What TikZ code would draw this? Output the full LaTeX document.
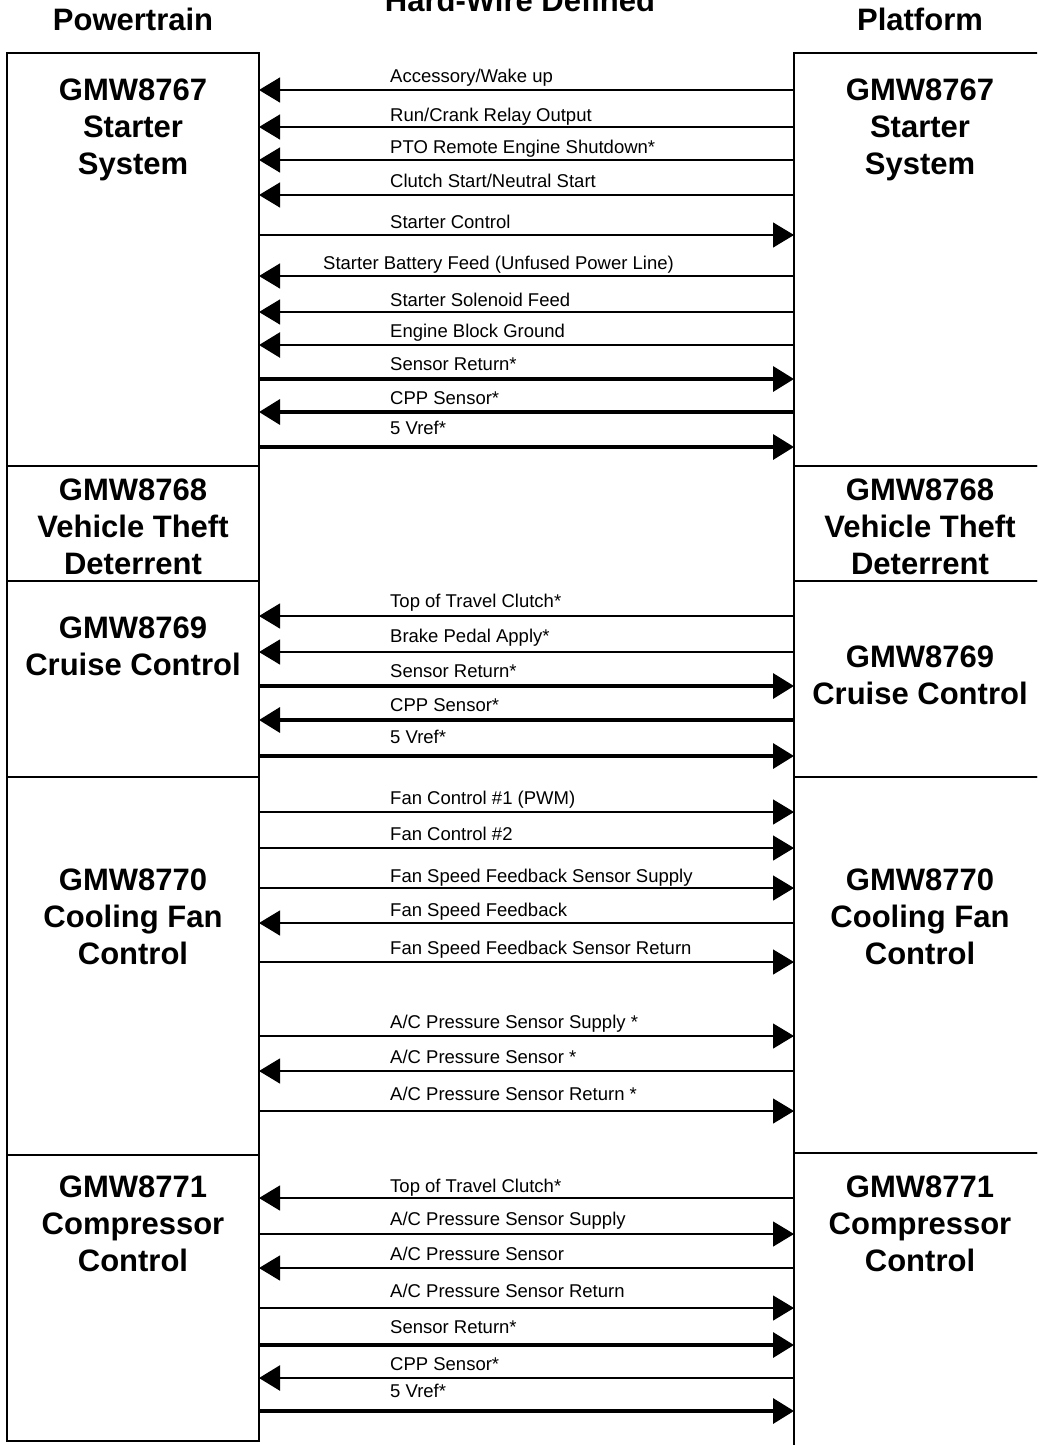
\documentclass[tikz,border=0pt]{standalone}
\usepackage{fontspec}
\setmainfont{Liberation Sans}
\usetikzlibrary{arrows.meta}
\newcommand\wire[7]{% #1 name, #2 left node, #3 right node, #4 wire y, #5 style, #6 label baseline y, #7 label
  \draw[#5] (#2.east |- 0,#4) -- (#3.west |- 0,#4);
  \node[lbl] (#1) at (390,#6) {#7};}
\begin{document}
\begin{tikzpicture}[x=1pt,y=-1pt,
  box/.style={draw, line width=1.3pt, rectangle, inner sep=0pt, outer sep=0pt, anchor=north west},
  ttl/.style={font=\bfseries\fontsize{31}{37}\selectfont, align=center, anchor=north, inner sep=0pt},
  hdr/.style={font=\bfseries\fontsize{31}{37}\selectfont, anchor=base, inner sep=0pt},
  lbl/.style={font=\fontsize{18.5}{20}\selectfont, anchor=base west, inner sep=0pt},
  tip/.style={Triangle[length=21pt,width=25pt]},
  tol/.style={line width=1.3pt, {Triangle[length=21pt,width=25pt]}-},
  tor/.style={line width=1.3pt, -{Triangle[length=21pt,width=25pt]}},
  tolm/.style={line width=2.4pt, {Triangle[length=21pt,width=25pt]}-},
  tolb/.style={line width=3.4pt, {Triangle[length=21pt,width=25pt]}-},
  torb/.style={line width=3.4pt, -{Triangle[length=21pt,width=25pt]}}
]
\useasboundingbox (0,0) rectangle (1037,1445);
\clip (0,0) rectangle (1037,1445);

% headers
\node[hdr] (hpt) at (133,31) {Powertrain};
\node[hdr] (hhw) at (520,12) {Hard-Wire Defined};
\node[hdr] (hpf) at (920,31) {Platform};

% left boxes
\node[box, minimum width=252pt, minimum height=413pt] (L1) at (7,53) {};
\node[box, minimum width=252pt, minimum height=115pt] (L2) at (7,466) {};
\node[box, minimum width=252pt, minimum height=196pt] (L3) at (7,581) {};
\node[box, minimum width=252pt, minimum height=378pt] (L4) at (7,777) {};
\node[box, minimum width=252pt, minimum height=286pt] (L5) at (7,1155) {};

% right boxes (open to the right)
\node[box, minimum width=280pt, minimum height=413pt] (R1) at (794,53) {};
\node[box, minimum width=280pt, minimum height=115pt] (R2) at (794,466) {};
\node[box, minimum width=280pt, minimum height=196pt] (R3) at (794,581) {};
\node[box, minimum width=280pt, minimum height=376pt] (R4) at (794,777) {};
\node[box, minimum width=280pt, minimum height=330pt] (R5) at (794,1153) {};

% titles
\node[ttl] (tL1) at (133,79) {GMW8767\\Starter\\System};
\node[ttl] (tR1) at (920,79) {GMW8767\\Starter\\System};
\node[ttl] (tL2) at (133,479) {GMW8768\\Vehicle Theft\\Deterrent};
\node[ttl] (tR2) at (920,479) {GMW8768\\Vehicle Theft\\Deterrent};
\node[ttl] (tL3) at (133,617) {GMW8769\\Cruise Control};
\node[ttl] (tR3) at (920,646) {GMW8769\\Cruise Control};
\node[ttl] (tL4) at (133,869) {GMW8770\\Cooling Fan\\Control};
\node[ttl] (tR4) at (920,869) {GMW8770\\Cooling Fan\\Control};
\node[ttl] (tL5) at (133,1176) {GMW8771\\Compressor\\Control};
\node[ttl] (tR5) at (920,1176) {GMW8771\\Compressor\\Control};

% GMW8767 signals
\wire{s1}{L1}{R1}{90}{tol}{82}{Accessory/Wake up}
\wire{s2}{L1}{R1}{127}{tol}{121}{Run/Crank Relay Output}
\wire{s3}{L1}{R1}{160}{tol}{153}{PTO Remote Engine Shutdown*}
\wire{s4}{L1}{R1}{195}{tol}{187}{Clutch Start/Neutral Start}
\wire{s5}{L1}{R1}{235}{tor}{228}{Starter Control}
\draw[tol] (L1.east |- 0,276) -- (R1.west |- 0,276);
\node[lbl] (s6) at (323,269) {Starter Battery Feed (Unfused Power Line)};
\wire{s7}{L1}{R1}{312}{tol}{306}{Starter Solenoid Feed}
\wire{s8}{L1}{R1}{345}{tolm}{337}{Engine Block Ground}
\wire{s9}{L1}{R1}{379}{torb}{370}{Sensor Return*}
\wire{s10}{L1}{R1}{412}{tolb}{404}{CPP Sensor*}
\wire{s11}{L1}{R1}{447}{torb}{434}{5 Vref*}

% GMW8769 signals
\wire{c1}{L3}{R3}{616}{tol}{607}{Top of Travel Clutch*}
\wire{c2}{L3}{R3}{652}{tol}{642}{Brake Pedal Apply*}
\wire{c3}{L3}{R3}{686}{torb}{677}{Sensor Return*}
\wire{c4}{L3}{R3}{720}{tolb}{711}{CPP Sensor*}
\wire{c5}{L3}{R3}{756}{torb}{743}{5 Vref*}

% GMW8770 signals
\wire{f1}{L4}{R4}{812}{tor}{804}{Fan Control \#1 (PWM)}
\wire{f2}{L4}{R4}{848}{tor}{840}{Fan Control \#2}
\wire{f3}{L4}{R4}{888}{tor}{882}{Fan Speed Feedback Sensor Supply}
\wire{f4}{L4}{R4}{923}{tol}{916}{Fan Speed Feedback}
\wire{f5}{L4}{R4}{962}{tor}{954}{Fan Speed Feedback Sensor Return}
\wire{f6}{L4}{R4}{1036}{tor}{1028}{A/C Pressure Sensor Supply *}
\wire{f7}{L4}{R4}{1071}{tol}{1063}{A/C Pressure Sensor *}
\wire{f8}{L4}{R4}{1111}{tor}{1100}{A/C Pressure Sensor Return *}

% GMW8771 signals
\wire{k1}{L5}{R5}{1198}{tol}{1192}{Top of Travel Clutch*}
\wire{k2}{L5}{R5}{1234}{tor}{1225}{A/C Pressure Sensor Supply}
\wire{k3}{L5}{R5}{1268}{tol}{1260}{A/C Pressure Sensor}
\wire{k4}{L5}{R5}{1308}{tor}{1297}{A/C Pressure Sensor Return}
\wire{k5}{L5}{R5}{1345}{torb}{1333}{Sensor Return*}
\wire{k6}{L5}{R5}{1378}{tolm}{1370}{CPP Sensor*}
\wire{k7}{L5}{R5}{1411}{torb}{1397}{5 Vref*}
\end{tikzpicture}
\end{document}
